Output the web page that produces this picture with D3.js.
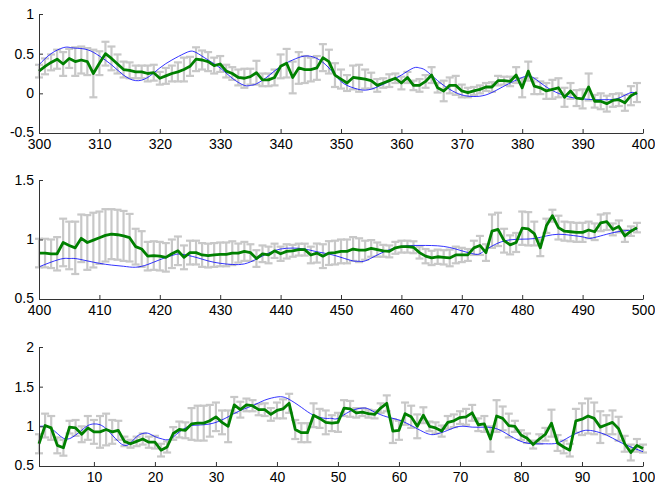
<!DOCTYPE html>
<html>
<head>
<meta charset="utf-8">
<script src="https://cdn.jsdelivr.net/npm/d3@7"></script>
<style>
  body { margin: 0; background: #fff; }
  svg { display: block; }
  .axis text { font-family: "Liberation Sans", Arial, sans-serif; font-size: 14px; fill: #000; }
  .axis path, .axis line { stroke: #333; }
</style>
</head>
<body>
<svg id="chart" width="655" height="485"></svg>
<script>
// Panel 1: x 300..399
var mean1 = [0.28,0.34,0.39,0.43,0.37,0.44,0.40,0.42,0.40,0.25,
             0.38,0.50,0.44,0.37,0.30,0.29,0.27,0.27,0.25,0.26,
             0.19,0.22,0.25,0.27,0.30,0.34,0.43,0.42,0.40,0.35,
             0.37,0.28,0.25,0.20,0.19,0.21,0.26,0.17,0.17,0.20,
             0.34,0.38,0.20,0.32,0.30,0.30,0.32,0.45,0.40,0.23,
             0.18,0.13,0.20,0.19,0.18,0.16,0.10,0.13,0.16,0.19,
             0.13,0.20,0.10,0.10,0.15,0.23,0.07,0.03,0.10,0.10,
             0.03,0.01,0.03,0.05,0.08,0.08,0.16,0.16,0.15,0.23,
             0.07,0.28,0.09,0.07,0.03,0.05,0.07,-0.05,0.03,-0.06,
             -0.07,0.08,-0.10,-0.10,-0.13,-0.09,-0.08,-0.12,-0.03,0.01];
var err1 = [0.08,0.10,0.10,0.12,0.15,0.12,0.18,0.17,0.17,0.30,
            0.15,0.15,0.15,0.12,0.10,0.10,0.08,0.08,0.10,0.10,
            0.08,0.10,0.10,0.12,0.15,0.12,0.15,0.12,0.12,0.10,
            0.10,0.08,0.08,0.10,0.12,0.10,0.15,0.08,0.08,0.10,
            0.15,0.18,0.20,0.20,0.17,0.15,0.15,0.17,0.15,0.15,
            0.12,0.10,0.15,0.17,0.12,0.10,0.08,0.06,0.08,0.06,
            0.08,0.07,0.06,0.08,0.08,0.10,0.06,0.13,0.10,0.12,
            0.08,0.06,0.05,0.05,0.05,0.06,0.06,0.05,0.06,0.10,
            0.12,0.12,0.10,0.08,0.10,0.12,0.12,0.12,0.10,0.10,
            0.12,0.17,0.08,0.10,0.10,0.08,0.08,0.10,0.12,0.12];
var fitX1 = [300,302,304,305,306,308,310,312,314,316,318,320,322,324,325,326,328,330,332,334,335,336,338,340,342,344,346,348,
             350,352,354,356,358,360,362,363,364,366,368,370,372,374,376,378,380,381,382,384,386,388,390,392,394,396,398,399];
var fitY1 = [0.36,0.50,0.575,0.58,0.57,0.55,0.47,0.36,0.23,0.16,0.20,0.32,0.42,0.50,0.53,0.515,0.42,0.32,0.19,0.10,0.10,0.12,0.22,0.34,0.42,0.47,0.44,0.32,
             0.15,0.07,0.04,0.08,0.15,0.23,0.32,0.32,0.29,0.16,0.05,-0.02,-0.04,-0.02,0.05,0.13,0.20,0.22,0.19,0.08,0.00,-0.05,-0.07,-0.08,-0.08,-0.06,0.01,-0.02];

// Panel 2: x 400..499
var mean2 = [0.886,0.886,0.88,0.88,0.975,0.95,0.93,1.01,0.975,0.995,
             1.015,1.035,1.045,1.04,1.03,1.015,0.94,0.92,0.86,0.865,
             0.86,0.85,0.88,0.905,0.85,0.89,0.89,0.87,0.865,0.87,
             0.875,0.875,0.885,0.886,0.90,0.89,0.84,0.88,0.87,0.905,
             0.88,0.90,0.905,0.915,0.915,0.87,0.886,0.86,0.886,0.89,
             0.90,0.90,0.92,0.91,0.91,0.925,0.915,0.905,0.90,0.93,
             0.94,0.94,0.935,0.89,0.86,0.845,0.855,0.85,0.845,0.87,
             0.87,0.87,0.93,0.95,0.89,1.07,1.085,0.99,0.955,0.975,
             1.095,1.09,1.05,0.93,1.115,1.20,1.10,1.07,1.065,1.06,
             1.06,1.08,1.065,1.14,1.15,1.085,1.11,1.03,1.07,1.10];
var err2 = [0.12,0.12,0.12,0.14,0.20,0.20,0.22,0.20,0.23,0.23,
            0.22,0.22,0.21,0.21,0.21,0.20,0.15,0.15,0.12,0.12,
            0.12,0.12,0.12,0.12,0.10,0.10,0.10,0.10,0.10,0.10,
            0.10,0.10,0.10,0.08,0.08,0.07,0.07,0.07,0.07,0.06,
            0.06,0.06,0.05,0.05,0.05,0.07,0.08,0.10,0.10,0.10,
            0.10,0.10,0.10,0.10,0.08,0.07,0.06,0.05,0.05,0.05,
            0.05,0.05,0.05,0.05,0.06,0.06,0.06,0.06,0.07,0.07,
            0.06,0.05,0.06,0.08,0.07,0.14,0.14,0.10,0.08,0.08,
            0.14,0.14,0.10,0.07,0.06,0.05,0.10,0.08,0.08,0.08,
            0.08,0.07,0.07,0.07,0.07,0.05,0.05,0.05,0.04,0.04];
var fitX2 = [400,402,404,405,406,408,410,412,414,416,418,420,422,423,424,426,428,430,432,434,436,438,440,442,444,446,448,
             450,452,453,454,456,458,460,462,464,466,468,470,472,473,474,476,478,480,482,484,486,488,490,491,492,494,496,498,499];
var fitY2 = [0.77,0.81,0.84,0.84,0.84,0.82,0.80,0.785,0.775,0.767,0.79,0.83,0.865,0.878,0.873,0.85,0.82,0.80,0.79,0.795,0.835,0.886,0.92,0.928,0.92,0.897,0.878,
             0.85,0.82,0.817,0.82,0.87,0.914,0.942,0.95,0.95,0.947,0.933,0.905,0.878,0.88,0.914,0.97,0.997,1.003,1.008,1.03,1.044,1.036,1.022,1.01,1.017,1.044,1.067,1.078,1.086];

// Panel 3: x 1..100
var mean3 = [0.78,1.01,0.98,0.76,0.73,0.99,0.98,0.90,0.98,0.93,
             0.93,0.96,0.93,0.95,0.81,0.78,0.81,0.84,0.80,0.80,
             0.70,0.74,0.91,0.96,0.95,1.03,1.04,1.04,1.07,1.12,
             1.05,1.00,1.27,1.21,1.27,1.26,1.21,1.21,1.15,1.20,
             1.22,1.29,0.96,0.92,0.92,1.14,1.10,1.05,1.04,1.05,
             1.23,1.22,1.17,1.18,1.16,1.15,1.23,1.29,0.94,0.95,
             1.16,1.12,1.00,1.14,1.00,0.98,0.94,1.05,1.07,1.11,
             1.12,1.17,1.02,1.03,0.84,1.13,1.10,1.01,1.00,0.89,
             0.85,0.77,0.84,0.90,1.04,0.79,0.74,0.70,1.07,1.09,
             1.13,1.10,0.99,1.02,1.05,0.97,0.78,0.67,0.76,0.72];
var err3 = [0.12,0.15,0.15,0.10,0.10,0.08,0.10,0.10,0.15,0.15,
            0.20,0.20,0.15,0.12,0.06,0.05,0.06,0.07,0.07,0.08,
            0.08,0.07,0.08,0.10,0.10,0.20,0.22,0.22,0.20,0.18,
            0.15,0.20,0.10,0.10,0.08,0.07,0.07,0.08,0.08,0.10,
            0.12,0.12,0.12,0.12,0.12,0.15,0.12,0.15,0.10,0.12,
            0.10,0.10,0.06,0.05,0.05,0.05,0.06,0.10,0.15,0.12,
            0.14,0.14,0.15,0.10,0.06,0.07,0.07,0.08,0.08,0.08,
            0.10,0.10,0.08,0.10,0.16,0.20,0.15,0.15,0.07,0.06,
            0.06,0.05,0.06,0.08,0.17,0.10,0.08,0.08,0.15,0.20,
            0.22,0.20,0.20,0.12,0.15,0.15,0.10,0.10,0.08,0.05];
var fitX3 = [1,2,3,4,5,6,7,8,9,10,11,12,13,14,15,16,17,18,19,20,21,22,23,24,25,26,28,30,32,34,36,38,40,41,42,44,46,48,49,
             50,52,54,55,56,58,60,62,64,65,66,68,70,72,74,76,78,80,82,84,86,88,90,91,92,94,96,98,100];
var fitY3 = [1.00,1.00,0.97,0.91,0.85,0.845,0.89,0.95,1.01,1.03,1.02,0.97,0.89,0.81,0.76,0.79,0.87,0.91,0.91,0.87,0.845,0.83,0.865,0.93,0.98,1.01,1.02,1.05,1.12,1.20,1.26,1.33,1.37,1.37,1.34,1.24,1.14,1.10,1.10,
             1.10,1.19,1.23,1.22,1.18,1.12,1.08,1.01,0.93,0.90,0.90,0.95,1.00,0.99,0.99,0.97,0.89,0.81,0.78,0.78,0.79,0.87,0.94,0.95,0.94,0.89,0.81,0.74,0.68];

var yTicks1 = [-0.5, 0, 0.5, 1];
var yTicks2 = [0.5, 1, 1.5];
var yTicks3 = [0.5, 1, 1.5, 2];
var xTicks1 = d3.range(300, 401, 10);
var xTicks2 = d3.range(400, 501, 10);
var xTicks3 = d3.range(10, 101, 10);

var panels = [
  {start: 300, xdom: [300, 400], ydom: [-0.5, 1], top: 14, mean: mean1, err: err1, fx: fitX1, fy: fitY1, xt: xTicks1, yt: yTicks1},
  {start: 400, xdom: [400, 500], ydom: [0.5, 1.5], top: 180, mean: mean2, err: err2, fx: fitX2, fy: fitY2, xt: xTicks2, yt: yTicks2},
  {start: 1, xdom: [1, 100], ydom: [0.5, 2], top: 347, mean: mean3, err: err3, fx: fitX3, fy: fitY3, xt: xTicks3, yt: yTicks3}
];

var left = 39, right = 643, h = 119;
var svg = d3.select('#chart');

panels.forEach(function(p) {
  var g = svg.append('g').attr('transform', 'translate(0,' + p.top + ')');
  var x = d3.scaleLinear().domain(p.xdom).range([left, right]);
  var y = d3.scaleLinear().domain(p.ydom).range([h, 0]);

  var pts = p.mean.map(function(v, i) { return {x: p.start + i, y: v, e: p.err[i]}; });

  // error bars
  var eb = g.append('g').attr('stroke', '#c8c8c8').attr('stroke-width', 2.2).attr('fill', 'none');
  pts.forEach(function(d) {
    var cx = x(d.x), y0 = y(d.y - d.e), y1 = y(d.y + d.e);
    eb.append('line').attr('x1', cx).attr('x2', cx).attr('y1', y0).attr('y2', y1);
    eb.append('line').attr('x1', cx - 4).attr('x2', cx + 4).attr('y1', y0).attr('y2', y0);
    eb.append('line').attr('x1', cx - 4).attr('x2', cx + 4).attr('y1', y1).attr('y2', y1);
  });

  // fitted curve
  var fit = p.fx.map(function(v, i) { return [v, p.fy[i]]; });
  g.append('path')
    .attr('d', d3.line().curve(d3.curveNatural).x(function(d) { return x(d[0]); }).y(function(d) { return y(d[1]); })(fit))
    .attr('fill', 'none').attr('stroke', '#0000ff').attr('stroke-width', 0.8);

  // mean line
  g.append('path')
    .attr('d', d3.line().x(function(d) { return x(d.x); }).y(function(d) { return y(d.y); })(pts))
    .attr('fill', 'none').attr('stroke', '#008000').attr('stroke-width', 2.8).attr('stroke-linejoin', 'round');

  // axes
  g.append('g').attr('class', 'axis')
    .attr('transform', 'translate(0,' + h + ')')
    .call(d3.axisBottom(x).tickValues(p.xt).tickFormat(d3.format('d')).tickSizeInner(-4).tickSizeOuter(0).tickPadding(6));
  var ya = g.append('g').attr('class', 'axis')
    .attr('transform', 'translate(' + left + ',0)')
    .call(d3.axisLeft(y).tickValues(p.yt).tickFormat(function(d) { return d; }).tickSizeInner(-4).tickSizeOuter(0).tickPadding(5));
  // nudge the lowest label up a little so it clears the x labels
  ya.selectAll('.tick text').filter(function(d) { return d === p.ydom[0]; }).attr('dy', '0.22em');
});
</script>
</body>
</html>
